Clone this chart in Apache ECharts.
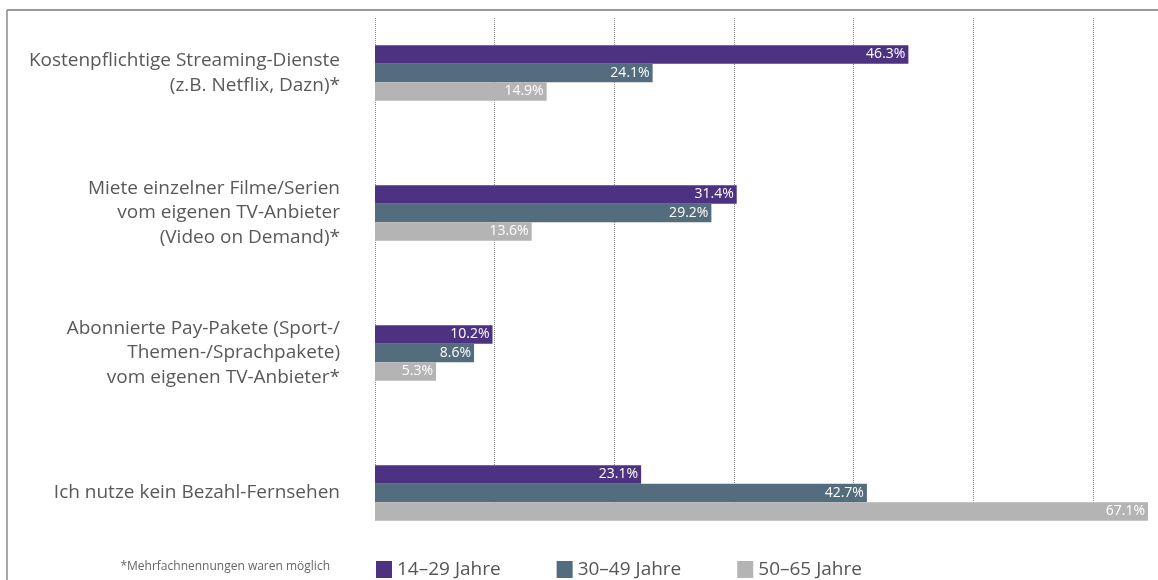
<!DOCTYPE html>
<html>
<head>
  <meta charset="UTF-8">
  <title>Bezahl-Fernsehen nach Alter</title>
  <script src="https://cdn.jsdelivr.net/npm/echarts@6/dist/echarts.min.js"></script>
  <style>
    html, body { margin: 0; padding: 0; background: #fff; }
    #main { width: 1158px; height: 580px; }
  </style>
</head>
<body>
<div id="main"></div>
<script>
  // categories (top to bottom)
  var categories = [
    'Kostenpflichtige Streaming-Dienste\n(z.B. Netflix, Dazn)*',
    'Miete einzelner Filme/Serien\nvom eigenen TV-Anbieter\n(Video on Demand)*',
    'Abonnierte Pay-Pakete (Sport-/\nThemen-/Sprachpakete)\nvom eigenen TV-Anbieter*',
    'Ich nutze kein Bezahl-Fernsehen'
  ];
  var seriesNames = ['14\u201329 Jahre', '30\u201349 Jahre', '50\u201365 Jahre'];
  var age14to29 = [46.3, 31.4, 10.2, 23.1];
  var age30to49 = [24.1, 29.2, 8.6, 42.7];
  var age50to65 = [14.9, 13.6, 5.3, 67.1];
  var footnote = '*Mehrfachnennungen waren möglich';

  var colors = ['#4e3282', '#546d7e', '#b4b4b4'];
  var font = 'Open Sans';

  var myChart = echarts.init(document.getElementById('main'));

  function barSeries(i, data) {
    return {
      name: seriesNames[i],
      type: 'bar',
      xAxisIndex: 0,
      yAxisIndex: 0,
      barWidth: 18.5,
      barGap: '0%',
      itemStyle: { color: colors[i] },
      label: {
        show: true,
        position: 'insideRight',
        distance: 3,
        color: '#fff',
        fontFamily: font,
        fontSize: 14,
        formatter: function (p) { return p.value.toFixed(1) + '%'; }
      },
      data: data
    };
  }

  var option = {
    animation: false,
    textStyle: { fontFamily: font },
    grid: [
      // bars
      { left: 375, right: 10, top: 3, height: 560 },
      // dotted gridlines only
      { left: 375, right: 10, top: 18, height: 502 }
    ],
    xAxis: [
      { gridIndex: 0, type: 'value', min: 0, max: 67.1, show: false },
      {
        gridIndex: 1, type: 'value', min: 0, max: 64.6, interval: 10,
        axisLine: { show: false }, axisTick: { show: false }, axisLabel: { show: false },
        splitLine: {
          show: true, showMaxLine: false,
          lineStyle: { type: 'dotted', color: '#8c8c8c', width: 1 }
        }
      }
    ],
    yAxis: [
      {
        gridIndex: 0, type: 'category', inverse: true, data: categories,
        axisLine: { show: false }, axisTick: { show: false },
        axisLabel: {
          margin: 35,
          align: 'right',
          color: '#595959',
          fontFamily: font,
          fontSize: 19,
          lineHeight: 24.5
        }
      },
      { gridIndex: 1, type: 'value', show: false }
    ],
    legend: {
      left: 376,
      top: 560,
      padding: 0,
      itemWidth: 16,
      itemHeight: 17,
      itemGap: 56,
      icon: 'rect',
      textStyle: { color: '#555', fontSize: 19, fontFamily: font },
      data: seriesNames
    },
    graphic: [
      {
        type: 'line', silent: true,
        shape: { x1: 7, y1: 10, x2: 1158, y2: 10 },
        style: { stroke: '#9a9a9a', lineWidth: 2 }
      },
      {
        type: 'line', silent: true,
        shape: { x1: 7, y1: 10, x2: 7, y2: 580 },
        style: { stroke: '#8a8a8a', lineWidth: 1.5 }
      },
      {
        type: 'text', silent: true,
        right: 828, top: 561,
        style: { text: footnote, fill: '#666', fontSize: 12, fontFamily: font }
      }
    ],
    series: [
      barSeries(0, age14to29),
      barSeries(1, age30to49),
      barSeries(2, age50to65)
    ]
  };

  myChart.setOption(option);
</script>
</body>
</html>
